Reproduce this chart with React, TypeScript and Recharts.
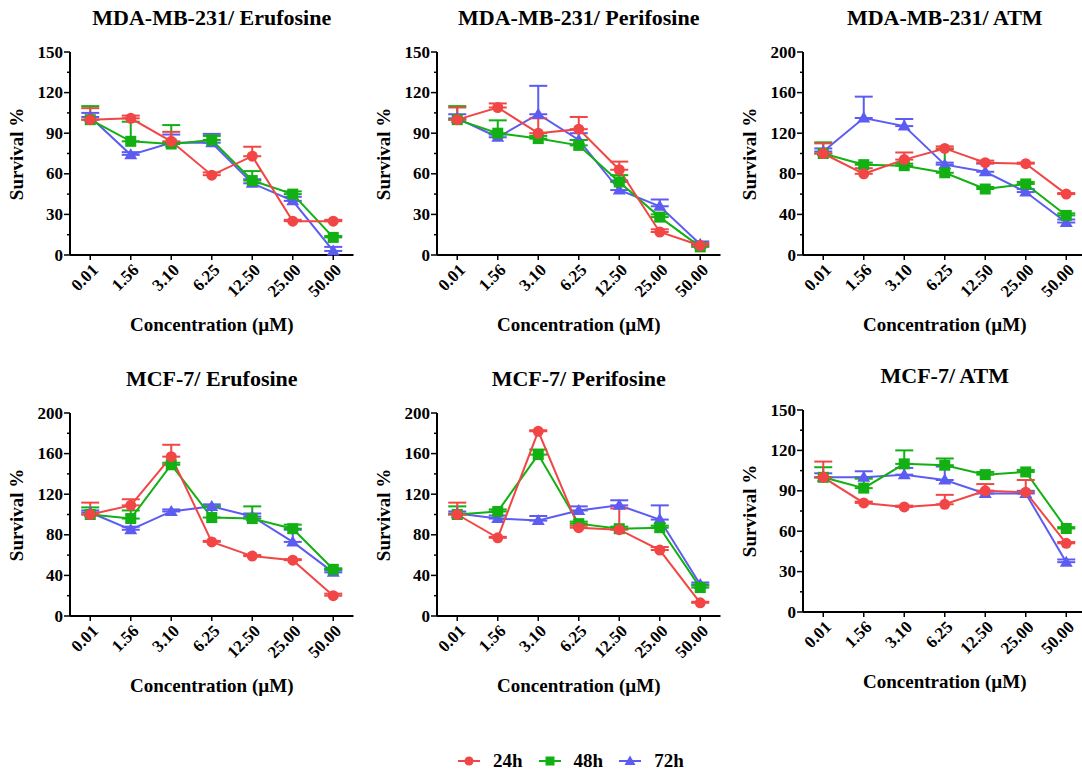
import React from 'react';
import { LineChart, Line, XAxis, YAxis, ErrorBar } from 'recharts';

// concentrations (µM) shown on every x axis
const concentrations = ['0.01', '1.56', '3.10', '6.25', '12.50', '25.00', '50.00'];
const xIndex = [0, 1, 2, 3, 4, 5, 6];

const ticks150 = [0, 15, 30, 45, 60, 75, 90, 105, 120, 135, 150];
const ticks200 = [0, 20, 40, 60, 80, 100, 120, 140, 160, 180, 200];

// MDA-MB-231 / Erufosine
const mdaEru24 = [100, 101, 84, 59, 73, 25, 25];
const mdaEru24Err = [8.5, 2, 7, 2, 7, 1, 1];
const mdaEru48 = [100, 84, 82, 85, 55, 45, 13];
const mdaEru48Err = [10, 14.5, 14, 3, 7, 2, 1];
const mdaEru72 = [102, 74, 83, 83, 53, 40, 3];
const mdaEru72Err = [3, 2, 6, 6.5, 3, 3, 3];

// MDA-MB-231 / Perifosine
const mdaPeri24 = [100, 109, 90, 93, 63, 17, 7];
const mdaPeri24Err = [9, 3, 11, 9, 6, 2, 2];
const mdaPeri48 = [100, 90, 86, 81, 54, 28, 6];
const mdaPeri48Err = [10, 9.5, 2, 4, 5, 2, 1];
const mdaPeri72 = [101, 87, 104, 85, 48, 36, 8];
const mdaPeri72Err = [3, 2, 21, 5, 7, 5, 2];

// MDA-MB-231 / ATM
const mdaAtm24 = [100, 80, 94, 105, 91, 90, 60];
const mdaAtm24Err = [10, 5.5, 7, 2, 2, 1, 1];
const mdaAtm48 = [100, 89, 88, 81, 65, 70, 39];
const mdaAtm48Err = [11, 2, 2, 23, 2, 2, 2];
const mdaAtm72 = [102, 135, 127, 89, 82, 62, 32];
const mdaAtm72Err = [3, 21, 7, 2, 8, 3, 3];

// MCF-7 / Erufosine
const mcfEru24 = [100, 109, 157, 73, 59, 55, 20];
const mcfEru24Err = [11.7, 6, 11.7, 1, 1, 1, 2];
const mcfEru48 = [100, 96, 149, 97, 96, 86, 46];
const mcfEru48Err = [7, 8, 2, 11, 12, 4, 1];
const mcfEru72 = [102, 85, 103, 108, 98, 73, 43];
const mcfEru72Err = [2, 3, 2, 2, 3, 12, 2];

// MCF-7 / Perifosine
const mcfPeri24 = [100, 77, 182, 87, 85, 65, 13];
const mcfPeri24Err = [11.7, 1, 1, 2, 21, 3, 1];
const mcfPeri48 = [100, 103, 159, 91, 86, 87, 28];
const mcfPeri48Err = [8, 2, 5, 2, 2, 2, 2];
const mcfPeri72 = [101, 96, 94, 104, 109, 95, 31];
const mcfPeri72Err = [2, 3, 4.5, 4, 5, 14, 2];

// MCF-7 / ATM
const mcfAtm24 = [100, 81, 78, 80, 90, 89, 51];
const mcfAtm24Err = [11.7, 1, 1, 7, 5, 9, 1];
const mcfAtm48 = [100, 92, 110, 109, 102, 104, 62];
const mcfAtm48Err = [7.5, 7, 10, 5, 2, 1.5, 1];
const mcfAtm72 = [100, 100, 102, 98, 88, 88, 37];
const mcfAtm72Err = [3, 4.5, 5, 10, 2, 2, 2];

const RED = '#F24646';
const GREEN = '#12B012';
const BLUE = '#5C5CF2';
const FONT = '"Liberation Serif", "Times New Roman", serif';

function buildRows(v24, e24, v48, e48, v72, e72) {
  return xIndex.map((i) => ({
    idx: i,
    h24: v24[i],
    h48: v48[i],
    h72: v72[i],
    e24: [0, e24[i]],
    e48: [0, e48[i]],
    e72: [0, e72[i]],
  }));
}

const CircleDot = (props: any) => {
  const { cx, cy } = props;
  if (cx == null || cy == null) return null;
  return <circle cx={cx} cy={cy} r={5.5} fill={RED} />;
};

const SquareDot = (props: any) => {
  const { cx, cy } = props;
  if (cx == null || cy == null) return null;
  return <rect x={cx - 5.5} y={cy - 5.5} width={11} height={11} fill={GREEN} />;
};

const TriangleDot = (props: any) => {
  const { cx, cy } = props;
  if (cx == null || cy == null) return null;
  return (
    <polygon
      points={`${cx},${cy - 6.5} ${cx + 6.5},${cy + 4.5} ${cx - 6.5},${cy + 4.5}`}
      fill={BLUE}
    />
  );
};

const XTick = (props: any) => {
  const { x, y, payload } = props;
  const label = concentrations[payload.value];
  return (
    <g>
      <line x1={x} y1={y} x2={x} y2={y + 5} stroke="#000" strokeWidth={1.5} />
      <text
        x={x + 5}
        y={y + 12}
        textAnchor="end"
        dominantBaseline="central"
        transform={`rotate(-45 ${x + 5} ${y + 12})`}
        fontFamily={FONT}
        fontWeight="bold"
        fontSize={17}
        fill="#000"
      >
        {label}
      </text>
    </g>
  );
};

const makeYTick = (step: number) => (props: any) => {
  const { x, y, payload } = props;
  const major = payload.value % step === 0;
  return (
    <g>
      <line x1={x - (major ? 6 : 3)} y1={y} x2={x} y2={y} stroke="#000" strokeWidth={1.5} />
      {major && (
        <text
          x={x - 7}
          y={y}
          textAnchor="end"
          dominantBaseline="central"
          fontFamily={FONT}
          fontWeight="bold"
          fontSize={17}
          fill="#000"
        >
          {payload.value}
        </text>
      )}
    </g>
  );
};

const PLOT_W = 283.5;
const CHART_W = 380;
const CHART_H = 340;

function Panel({ left, top, title, rows, yMax, step, ticks, axisX, plotTop, plotBottom }: any) {
  const yAxisW = 50;
  const xAxisH = 60;
  const margin = {
    left: axisX - yAxisW,
    top: plotTop,
    right: CHART_W - axisX - PLOT_W,
    bottom: CHART_H - plotBottom - xAxisH,
  };
  const centerX = axisX + PLOT_W / 2;
  const centerY = (plotTop + plotBottom) / 2;
  const YTick = makeYTick(step);
  return (
    <div style={{ position: 'absolute', left, top, width: CHART_W, height: CHART_H }}>
      <LineChart width={CHART_W} height={CHART_H} data={rows} margin={margin}>
        <XAxis
          dataKey="idx"
          type="number"
          domain={[-0.5, 6.5]}
          ticks={xIndex}
          interval={0}
          tick={<XTick />}
          tickSize={0}
          tickMargin={0}
          tickLine={false}
          axisLine={{ stroke: '#000', strokeWidth: 2 }}
          height={xAxisH}
        />
        <YAxis
          type="number"
          domain={[0, yMax]}
          ticks={ticks}
          interval={0}
          tick={<YTick />}
          tickSize={0}
          tickMargin={0}
          tickLine={false}
          axisLine={{ stroke: '#000', strokeWidth: 2 }}
          width={yAxisW}
        />
        <Line dataKey="h72" stroke={BLUE} strokeWidth={2} dot={<TriangleDot />} isAnimationActive={false}>
          <ErrorBar dataKey="e72" width={9} stroke={BLUE} strokeWidth={2} direction="y" />
        </Line>
        <Line dataKey="h48" stroke={GREEN} strokeWidth={2} dot={<SquareDot />} isAnimationActive={false}>
          <ErrorBar dataKey="e48" width={9} stroke={GREEN} strokeWidth={2} direction="y" />
        </Line>
        <Line dataKey="h24" stroke={RED} strokeWidth={2} dot={<CircleDot />} isAnimationActive={false}>
          <ErrorBar dataKey="e24" width={9} stroke={RED} strokeWidth={2} direction="y" />
        </Line>
      </LineChart>
      <div
        style={{
          position: 'absolute',
          left: centerX - 180,
          width: 360,
          top: plotTop - 48,
          textAlign: 'center',
          fontFamily: FONT,
          fontWeight: 'bold',
          fontSize: 22,
          lineHeight: '28px',
          whiteSpace: 'nowrap',
        }}
      >
        {title}
      </div>
      <div
        style={{
          position: 'absolute',
          left: centerX - 150,
          width: 300,
          top: plotBottom + 58,
          textAlign: 'center',
          fontFamily: FONT,
          fontWeight: 'bold',
          fontSize: 19,
          lineHeight: '24px',
          whiteSpace: 'nowrap',
        }}
      >
        Concentration (µM)
      </div>
      <div
        style={{
          position: 'absolute',
          left: axisX - 53 - 100,
          top: centerY - 12,
          width: 200,
          height: 24,
          textAlign: 'center',
          transform: 'rotate(-90deg)',
          fontFamily: FONT,
          fontWeight: 'bold',
          fontSize: 19,
          lineHeight: '24px',
          whiteSpace: 'nowrap',
        }}
      >
        Survival %
      </div>
    </div>
  );
}

const legendItems = [
  { name: '24h', color: RED, shape: 'circle' },
  { name: '48h', color: GREEN, shape: 'square' },
  { name: '72h', color: BLUE, shape: 'triangle' },
];

function LegendIcon({ color, shape }: any) {
  return (
    <svg width={22} height={14} style={{ marginRight: 13 }}>
      <line x1={0} y1={7} x2={22} y2={7} stroke={color} strokeWidth={2} />
      {shape === 'circle' && <circle cx={11} cy={7} r={4.5} fill={color} />}
      {shape === 'square' && <rect x={6.5} y={2.5} width={9} height={9} fill={color} />}
      {shape === 'triangle' && <polygon points="11,1.5 16.5,11 5.5,11" fill={color} />}
    </svg>
  );
}

export default function App() {
  const panels = [
    { left: 0, top: 0, title: 'MDA-MB-231/ Erufosine', rows: buildRows(mdaEru24, mdaEru24Err, mdaEru48, mdaEru48Err, mdaEru72, mdaEru72Err), yMax: 150, step: 30, ticks: ticks150, axisX: 70, plotTop: 52, plotBottom: 255 },
    { left: 360, top: 0, title: 'MDA-MB-231/ Perifosine', rows: buildRows(mdaPeri24, mdaPeri24Err, mdaPeri48, mdaPeri48Err, mdaPeri72, mdaPeri72Err), yMax: 150, step: 30, ticks: ticks150, axisX: 77, plotTop: 52, plotBottom: 255 },
    { left: 720, top: 0, title: 'MDA-MB-231/ ATM', rows: buildRows(mdaAtm24, mdaAtm24Err, mdaAtm48, mdaAtm48Err, mdaAtm72, mdaAtm72Err), yMax: 200, step: 40, ticks: ticks200, axisX: 83, plotTop: 52, plotBottom: 255 },
    { left: 0, top: 360, title: 'MCF-7/ Erufosine', rows: buildRows(mcfEru24, mcfEru24Err, mcfEru48, mcfEru48Err, mcfEru72, mcfEru72Err), yMax: 200, step: 40, ticks: ticks200, axisX: 70, plotTop: 53, plotBottom: 256 },
    { left: 360, top: 360, title: 'MCF-7/ Perifosine', rows: buildRows(mcfPeri24, mcfPeri24Err, mcfPeri48, mcfPeri48Err, mcfPeri72, mcfPeri72Err), yMax: 200, step: 40, ticks: ticks200, axisX: 77, plotTop: 53, plotBottom: 256 },
    { left: 720, top: 360, title: 'MCF-7/ ATM', rows: buildRows(mcfAtm24, mcfAtm24Err, mcfAtm48, mcfAtm48Err, mcfAtm72, mcfAtm72Err), yMax: 150, step: 30, ticks: ticks150, axisX: 83, plotTop: 50, plotBottom: 252 },
  ];
  return (
    <div
      style={{
        position: 'absolute',
        left: 0,
        top: 0,
        width: 1082,
        height: 770,
        background: '#fff',
        overflow: 'hidden',
      }}
    >
      {panels.map((p) => (
        <Panel key={p.title} {...p} />
      ))}
      <div
        style={{
          position: 'absolute',
          left: 458,
          top: 749,
          height: 24,
          display: 'flex',
          alignItems: 'center',
          fontFamily: FONT,
          fontWeight: 'bold',
          fontSize: 19,
        }}
      >
        {legendItems.map((item) => (
          <div key={item.name} style={{ display: 'flex', alignItems: 'center', marginRight: 16 }}>
            <LegendIcon color={item.color} shape={item.shape} />
            <span>{item.name}</span>
          </div>
        ))}
      </div>
    </div>
  );
}
